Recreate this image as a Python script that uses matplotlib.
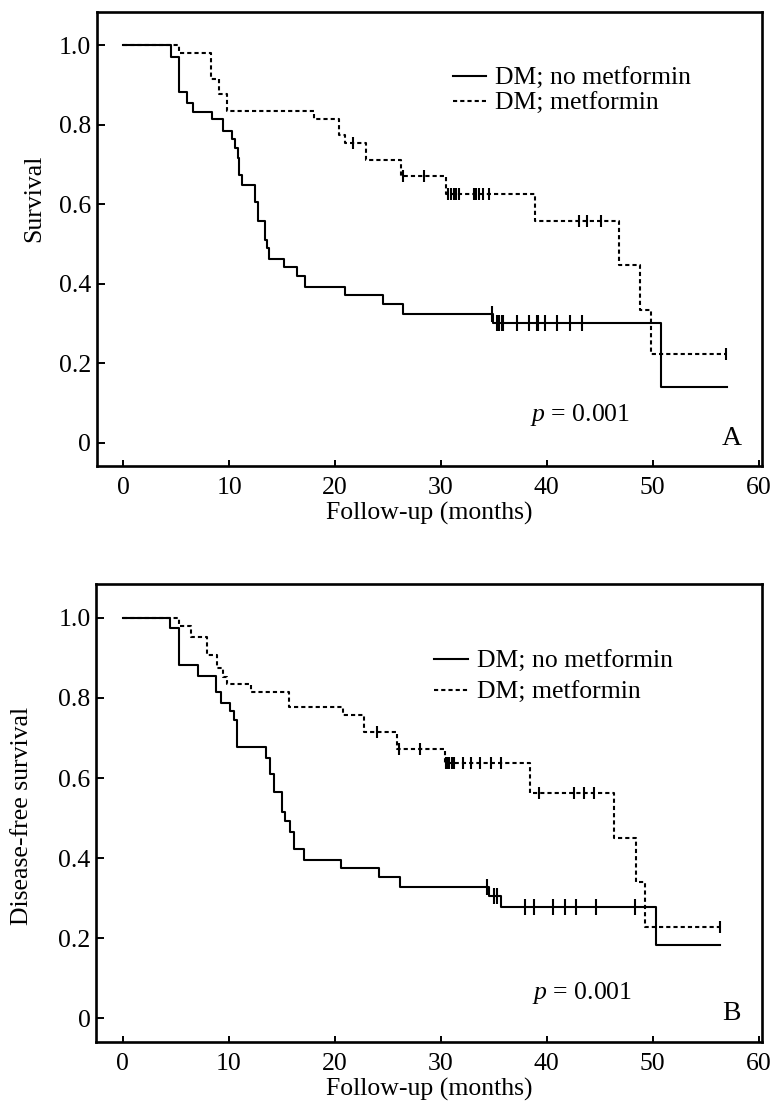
import numpy as np
import matplotlib
matplotlib.use("Agg")
import matplotlib.pyplot as plt

plt.rcParams['font.family'] = ['Liberation Serif', 'DejaVu Serif']
plt.rcParams['mathtext.fontset'] = 'custom'
plt.rcParams['mathtext.it'] = 'Liberation Serif:italic'
plt.rcParams['mathtext.rm'] = 'Liberation Serif'
plt.rcParams['lines.scale_dashes'] = False

# ---------------- data ----------------
# Panel A: overall survival
a_nomet_t = [0, 4.5, 5.3, 6.0, 6.6, 8.4, 9.4, 10.25, 10.55, 10.8, 10.95, 11.2, 12.4,
             12.75, 13.4, 13.55, 13.8, 15.2, 16.4, 17.2, 20.9, 24.5, 26.4, 34.9, 50.8]
a_nomet_s = [1.0, 0.971, 0.883, 0.856, 0.833, 0.814, 0.785, 0.764, 0.741, 0.716, 0.674,
             0.649, 0.607, 0.559, 0.511, 0.490, 0.463, 0.441, 0.420, 0.393, 0.371, 0.350,
             0.323, 0.301, 0.141]
a_nomet_end = 57.0
a_nomet_cens = [34.8, 35.3, 35.5, 35.8, 35.9, 37.2, 38.3, 39.1, 39.2, 39.8, 41.0, 42.2, 43.3]

a_met_t = [0, 5.3, 8.3, 9.0, 9.8, 18.0, 20.4, 20.95, 22.9, 26.2, 30.5, 38.85, 46.85, 48.8, 49.85]
a_met_s = [1.0, 0.980, 0.915, 0.877, 0.835, 0.814, 0.775, 0.755, 0.712, 0.670, 0.626,
           0.5585, 0.446, 0.335, 0.224]
a_met_end = 56.9
a_met_cens = [21.7, 26.4, 28.4, 30.7, 31.0, 31.2, 31.4, 31.7, 33.1, 33.3, 33.6, 34.0, 34.5,
              43.0, 43.8, 45.1, 56.9]

# Panel B: disease-free survival
b_nomet_t = [0, 4.5, 5.3, 7.1, 8.8, 9.3, 10.1, 10.5, 10.8, 13.5, 13.9, 14.3, 15.0, 15.35,
             15.8, 16.2, 17.1, 20.6, 24.2, 26.2, 34.6, 35.7, 50.3]
b_nomet_s = [1.0, 0.975, 0.882, 0.855, 0.814, 0.788, 0.767, 0.745, 0.678, 0.651, 0.611,
             0.564, 0.514, 0.493, 0.466, 0.423, 0.396, 0.375, 0.354, 0.328, 0.306, 0.277, 0.184]
b_nomet_end = 56.4
b_nomet_cens = [34.4, 35.0, 35.3, 38.0, 38.8, 40.65, 41.7, 42.8, 44.7, 48.3]

b_met_t = [0, 5.3, 6.5, 8.0, 8.9, 9.5, 9.9, 12.1, 15.7, 20.8, 22.8, 25.9, 30.4, 38.4,
           46.4, 48.4, 49.3]
b_met_s = [1.0, 0.980, 0.953, 0.908, 0.875, 0.853, 0.835, 0.814, 0.776, 0.756, 0.714,
           0.673, 0.637, 0.562, 0.451, 0.340, 0.229]
b_met_end = 56.4
b_met_cens = [24.0, 26.1, 28.1, 30.5, 30.7, 30.8, 31.1, 31.3, 32.1, 32.9, 33.7, 34.8, 35.7,
              39.3, 42.6, 43.5, 44.5, 56.4]

series_labels = ['DM; no metformin', 'DM; metformin']
x_ticks = [0, 10, 20, 30, 40, 50, 60]
y_ticks = [0, 0.2, 0.4, 0.6, 0.8, 1.0]
y_ticklabels = ['0', '0.2', '0.4', '0.6', '0.8', '1.0']
p_text = r'$p$ = 0.001'

FS = 18.5
LW = 1.5
DASH = (3.0, 2.2)


def km(ax, t, s, end, cens, dashed, label, ms):
    tt = np.append(np.asarray(t, float), end)
    ss = np.append(np.asarray(s, float), s[-1])
    kw = dict(color='black', lw=LW, label=label)
    if dashed:
        kw['dashes'] = DASH
    ax.step(tt, ss, where='post', **kw)
    c = np.asarray(cens, float)
    idx = np.searchsorted(np.asarray(t, float), c, side='right') - 1
    cy = np.asarray(s, float)[idx]
    ax.plot(c, cy, linestyle='none', marker='|', color='black', ms=ms, mew=1.5)


def style(ax, ylabel, ylabel_x, ylabel_y, letter, p_xy, leg_anchor, spacing):
    ax.set_xlim(-2.5, 60.3)
    ax.set_ylim(-0.058, 1.084)
    ax.set_xticks(x_ticks)
    ax.set_xticklabels([str(v) for v in x_ticks])
    ax.set_yticks(y_ticks)
    ax.set_yticklabels(y_ticklabels)
    ax.tick_params(axis='x', direction='in', length=4, width=1.4, labelsize=FS, pad=8)
    ax.tick_params(axis='y', direction='in', length=6, width=1.4, labelsize=FS, pad=4)
    for sp in ax.spines.values():
        sp.set_linewidth(1.9)
    ax.set_xlabel('Follow-up (months)', fontsize=FS, labelpad=2)
    ax.set_ylabel(ylabel, fontsize=FS)
    ax.yaxis.set_label_coords(ylabel_x, ylabel_y)
    ax.text(p_xy[0], p_xy[1], p_text, fontsize=FS, ha='left', va='center')
    ax.text(0.955, 0.061, letter, fontsize=FS + 1.5, ha='center', va='center',
            transform=ax.transAxes)
    ax.legend(loc='upper left', bbox_to_anchor=leg_anchor, frameon=False, fontsize=FS,
              handlelength=1.3, handletextpad=0.35, labelspacing=spacing, borderpad=0,
              borderaxespad=0)


fig = plt.figure(figsize=(7.72, 11.12), dpi=100)
axA = fig.add_axes([0.1253, 0.5812, 0.8614, 0.4080])
axB = fig.add_axes([0.1244, 0.0632, 0.8623, 0.4116])

km(axA, a_nomet_t, a_nomet_s, a_nomet_end, a_nomet_cens, False, series_labels[0], 11)
km(axA, a_met_t, a_met_s, a_met_end, a_met_cens, True, series_labels[1], 8.5)
style(axA, 'Survival', -0.077, 0.59, 'A', (38.4, 0.069), (0.535, 0.878), 0.08)

km(axB, b_nomet_t, b_nomet_s, b_nomet_end, b_nomet_cens, False, series_labels[0], 11)
km(axB, b_met_t, b_met_s, b_met_end, b_met_cens, True, series_labels[1], 8.5)
style(axB, 'Disease-free survival', -0.094, 0.494, 'B', (38.6, 0.063), (0.508, 0.855), 0.3)

fig.savefig('out.png', dpi=100)
